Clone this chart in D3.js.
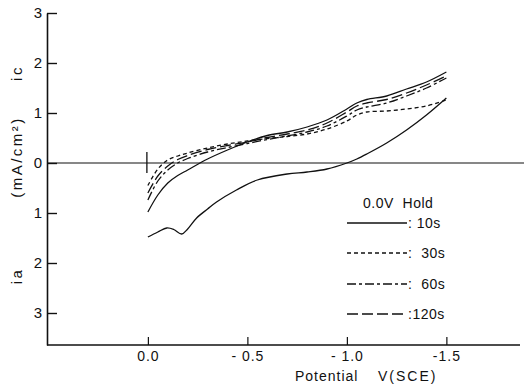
<!DOCTYPE html>
<html><head><meta charset="utf-8">
<script src="https://cdn.jsdelivr.net/npm/d3@7"></script>
<style>
body{margin:0;background:#fff;}
text{font-family:"Liberation Sans",Arial,sans-serif;fill:#111;}
</style></head><body>
<svg id="c" width="524" height="386"></svg>
<script>
// Potential (V vs SCE), shown as 0.0 ... -1.5
const potentials = [0, -0.05, -0.1, -0.15, -0.2, -0.3, -0.4, -0.5, -0.6, -0.7, -0.8, -0.9, -1.0, -1.05, -1.1, -1.2, -1.3, -1.4, -1.5];
const potentialsLower = [0, -0.05, -0.095, -0.13, -0.17, -0.2, -0.245, -0.3, -0.345, -0.445, -0.55, -0.7, -0.8, -0.9, -1.0, -1.05, -1.1, -1.2, -1.3, -1.4, -1.5];
// current density mA/cm^2, cathodic (ic) positive, anodic (ia) negative
const i10lower = [-1.48, -1.38, -1.30, -1.33, -1.42, -1.32, -1.10, -0.92, -0.78, -0.54, -0.34, -0.22, -0.18, -0.12, 0.0, 0.08, 0.18, 0.40, 0.66, 0.96, 1.30];
const i10upper = [-0.98, -0.64, -0.40, -0.25, -0.14, 0.08, 0.26, 0.42, 0.55, 0.62, 0.72, 0.86, 1.08, 1.20, 1.27, 1.34, 1.48, 1.62, 1.82];
const i30 = [-0.45, -0.12, 0.06, 0.14, 0.20, 0.30, 0.38, 0.44, 0.49, 0.53, 0.58, 0.68, 0.84, 0.96, 1.02, 1.04, 1.08, 1.14, 1.26];
const i60 = [-0.74, -0.36, -0.14, 0.00, 0.09, 0.22, 0.31, 0.39, 0.47, 0.54, 0.62, 0.74, 0.94, 1.06, 1.12, 1.20, 1.34, 1.50, 1.70];
const i120 = [-0.60, -0.26, -0.06, 0.07, 0.15, 0.27, 0.35, 0.42, 0.51, 0.58, 0.66, 0.80, 1.02, 1.14, 1.20, 1.27, 1.40, 1.56, 1.74];
const xTicks = [0, -0.5, -1.0, -1.5];
const xTickLabels = ["0.0", "- 0.5", "- 1.0", "-1.5"];
const yTicks = [3, 2, 1, 0, -1, -2, -3];
const legendLabels = [": 10s", ":  30s", ":  60s", ":120s"];
const legendTitle = "0.0V  Hold";

const svg = d3.select("#c");
const x = d3.scaleLinear().domain([0.507, -1.87]).range([47, 520]);
const y = d3.scaleLinear().domain([3.0, -3.64]).range([13, 345]);

// axes
const yAxis = d3.axisLeft(y).tickValues(yTicks).tickSizeInner(-10).tickSizeOuter(0)
  .tickPadding(14).tickFormat(d => Math.abs(d));
const gy = svg.append("g").attr("transform", "translate(47,0)").call(yAxis);
gy.select(".domain").attr("stroke", "#111").attr("stroke-width", 1.6);
gy.selectAll(".tick line").attr("stroke", "#111").attr("stroke-width", 1.4);
gy.selectAll(".tick text").attr("font-size", 15).attr("x", -5).style("text-anchor", "end");

const xAxis = d3.axisBottom(x).tickValues(xTicks).tickSizeInner(-8).tickSizeOuter(0)
  .tickPadding(14).tickFormat((d, i) => xTickLabels[i]);
const gx = svg.append("g").attr("transform", "translate(0,345)").call(xAxis);
gx.select(".domain").attr("d", `M47,0H520`).attr("stroke", "#111").attr("stroke-width", 1.6);
gx.selectAll(".tick line").attr("stroke", "#111").attr("stroke-width", 1.2);
gx.selectAll(".tick text").attr("font-size", 14).style("letter-spacing", "1px").attr("y", 6).attr("dy", "0.71em");

// zero line
svg.append("line").attr("x1", 47).attr("x2", 524).attr("y1", y(0)).attr("y2", y(0))
  .attr("stroke", "#111").attr("stroke-width", 1.1);
svg.append("line").attr("x1", x(0) - 1).attr("x2", x(0) - 1).attr("y1", y(0) - 11).attr("y2", y(0) + 10)
  .attr("stroke", "#111").attr("stroke-width", 1.3);

// curves
const series = [
  {p: potentialsLower, v: i10lower, dash: null},
  {p: potentials, v: i10upper, dash: null},
  {p: potentials, v: i30, dash: "4,3"},
  {p: potentials, v: i60, dash: "9,3,3,3"},
  {p: potentials, v: i120, dash: "11,4"}
];
svg.append("g").selectAll("path").data(series).join("path")
  .attr("d", s => d3.line().x((d, i) => x(s.p[i])).y(d => y(d)).curve(d3.curveCatmullRom.alpha(0.5))(s.v))
  .attr("fill", "none").attr("stroke", "#111")
  .attr("stroke-width", 1.3).attr("stroke-dasharray", d => d.dash);

// legend
const lg = svg.append("g");
lg.append("text").attr("x", 363).attr("y", 203).attr("dy", "0.35em").attr("font-size", 14)
  .style("letter-spacing", "0.5px").style("white-space", "pre").text(legendTitle);
const dashes = [null, "4,3", "9,3,3,3", "11,4"];
const rowsY = [223, 253, 284, 314];
legendLabels.forEach((lab, k) => {
  lg.append("line").attr("x1", 347).attr("x2", 407).attr("y1", rowsY[k]).attr("y2", rowsY[k])
    .attr("stroke", "#111").attr("stroke-width", 1.4).attr("stroke-dasharray", dashes[k]);
  lg.append("text").attr("x", 408).attr("y", rowsY[k]).attr("dy", "0.35em").attr("font-size", 14)
    .style("white-space", "pre").style("letter-spacing", "0.5px").text(lab);
});

// axis titles
svg.append("text").attr("x", 295).attr("y", 376).attr("dy", "0.35em").attr("font-size", 14)
  .style("letter-spacing", "1px").text("Potential");
svg.append("text").attr("x", 378).attr("y", 376).attr("dy", "0.35em").attr("font-size", 14)
  .style("letter-spacing", "2px").text("V(SCE)");
const yl = [{t: "ic", c: 73}, {t: "(mA/cm²)", c: 157}, {t: "ia", c: 276}];
yl.forEach(o => {
  svg.append("text").attr("transform", `translate(17,${o.c}) rotate(-90)`).attr("text-anchor", "middle")
    .attr("dy", "0.35em").attr("font-size", 15).style("letter-spacing", "2.5px").text(o.t);
});
</script>
</body></html>
